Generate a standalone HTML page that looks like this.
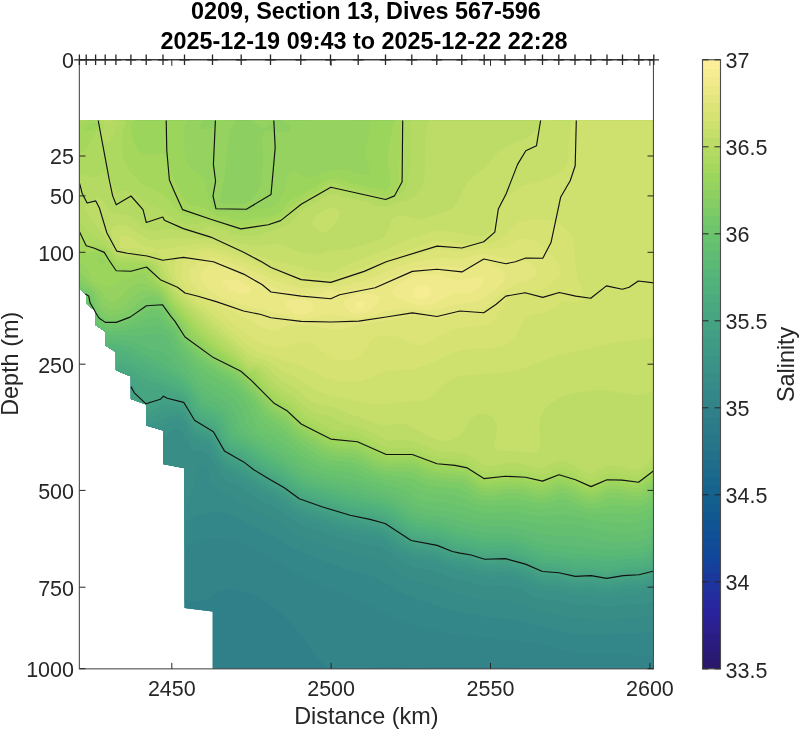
<!DOCTYPE html>
<html><head><meta charset="utf-8"><style>
html,body{margin:0;padding:0;background:#fff;}
body{width:800px;height:729px;overflow:hidden;}
svg{display:block;font-family:"Liberation Sans",Arial,Helvetica,sans-serif;}
.t{font-size:21.5px;fill:#262626;}
.l{font-size:23.4px;fill:#262626;}
.h{font-size:23.4px;font-weight:bold;fill:#000;}
</style></head><body>
<svg width="800" height="729" viewBox="0 0 800 729">
<defs><clipPath id="dc"><polygon points="79.5,120.5 653.5,120.5 653.5,668.9 212.8,668.9 212.8,611.5 184.6,608.1 184.6,468.3 163,463.9 163,430.4 146.2,425.6 146.2,404.5 130.9,399 130.9,376.4 115.9,370.2 115.9,352.1 105.3,345.4 105.3,331.7 95.6,324.9 95.6,311.2 86.2,303.6 86.2,294.4 79.5,288.6"/></clipPath>
<clipPath id="ac"><rect x="79.5" y="59.75" width="573.95" height="609.1"/></clipPath></defs>
<g clip-path="url(#dc)" shape-rendering="geometricPrecision">
<rect x="77.5" y="118.5" width="578" height="552.4" fill="#2b7a89"/>
<path fill="#2d7d89" d="M77.5 118.5L653.5 118.5L653.5 670.5L102.7 670.5L77.5 652.6Z"/>
<path fill="#2f8088" d="M77.5 118.5L653.5 118.5L653.5 670.5L170.8 670.5L127.5 641.5L77.5 610.1Z"/>
<path fill="#328488" d="M77.5 118.5L653.5 118.5L653.5 670.5L542.3 670.5L531.5 668.9L521.5 668.1L461.5 666.9L419.5 668L381.5 667.6L345.5 669.6L333.5 668.9L327 666.5L319.5 660.4L313.5 653.3L295.9 628.5L288.8 620.5L282.5 614.5L273.5 607.1L265.5 601.6L256.5 596.5L247.5 592.6L237.5 589.8L227.5 589.2L219.5 591.2L215.5 593.3L207.5 598.7L201.5 600.8L193.5 601.3L179.5 601.1L157.5 599.5L137.5 595.8L117.5 589.6L97.5 581.1L77.5 570.5Z"/>
<path fill="#348788" d="M77.5 118.5L653.5 118.5L653.5 656.2L643.5 656.1L619.5 653.5L593.5 654.3L579.5 653.6L565.5 651L535.5 643.3L517.5 641L483.5 638.1L465.5 636L441.5 632.2L423.5 628L409.5 623.7L397.5 619.1L362.8 602.5L321.5 585.3L293.5 571.4L251.5 547.4L239.5 542.1L227.5 538.4L217.5 537.4L211.5 537.9L205.5 539L195.5 542.1L173.5 551.5L163.5 555L151.5 557.5L141.5 558L127.5 556.5L111.5 552L95.5 544.9L77.5 534.7Z"/>
<path fill="#368a88" d="M77.5 118.5L653.5 118.5L653.5 631.6L641.5 632.9L621.5 633.3L599.5 634.8L579.5 634.2L563.5 631.7L511.5 619.5L479.5 615.9L459.5 612.2L441.5 607.3L411.5 596.9L399.5 591.5L383.5 581.7L375.5 577.8L341.5 567.7L305.5 554L291.5 547.5L262.9 530.5L237.5 517.7L225.5 513L217.5 511.6L209.5 512L201.5 514.5L181.5 524L169.5 528.4L155.5 531.1L143.5 531.3L129.5 528.7L115.5 523.5L101.5 515.9L77.5 500.4Z"/>
<path fill="#388d87" d="M77.5 118.5L653.5 118.5L653.5 614.8L639.5 617.5L607.5 620.1L571.5 617.9L539.5 611.8L533.5 609.9L517.5 603.3L511.5 601.6L503.5 600.8L485.5 600.2L477.5 598.9L453.5 593.1L429.5 584L411.5 579.8L404.3 576.5L387.5 564.5L379.7 560.5L363.5 557.3L349.5 553.8L335 548.5L319.5 543.7L295.5 534.2L275.5 520.8L258.3 512.5L235.5 498.2L221.5 491.6L217.5 489L213 484.5L210.8 480.5L207.5 468.5L205.5 465.8L203.5 465L201.5 465.2L199.5 466.3L197.5 469L196.5 472.5L195.9 480.5L194.7 486.5L191.8 492.5L187.5 497.8L181.8 502.5L175.5 505.9L167.5 508.5L159.5 509.5L153.5 509.2L147.5 508.3L141.3 506.5L133.5 503.1L123.5 497.3L97.5 480.1L77.5 468.9Z"/>
<path fill="#3a9187" d="M77.5 118.5L653.5 118.5L653.5 601.1L639.5 604.5L625.5 604.8L607.5 607.7L589.5 604.5L577.5 605.2L573.5 604.9L557.5 601L541.5 599.6L531.5 595.4L519.5 588.8L513.5 586.9L501.5 586.1L487.5 586.8L483.5 586.4L467.5 581.3L453.5 578.7L431.5 570.1L415.5 568.2L411.5 567.1L397.5 559.1L383.5 548.8L379.5 546.6L351.5 541.4L327.5 534.4L317.5 530.4L303.5 526.1L299.5 524.2L277.5 509.1L267.5 504.7L257.5 499.4L238.8 486.5L225.5 480.5L223.2 478.5L220.1 474.5L213.5 461.5L207.5 453.5L203.5 451L201.5 450.7L195.5 451.3L192.9 450.5L191.3 448.5L188.5 442.5L181.5 432.2L179.5 430.3L177.5 429.4L173.5 429.7L166.4 434.5L158.4 442.5L147.5 457.4L143.5 460.4L139.5 461.6L129.5 461.3L117.5 458.7L103.5 454.1L77.5 444ZM160.3 474.5L163.5 473.1L169.5 473.6L171.5 474.5L173.7 476.5L174.7 478.5L174.7 480.5L173.4 482.5L169.5 484.2L167.5 484.2L163.5 483L160.5 480.5L159.5 478.5L159.3 476.5Z"/>
<path fill="#3c9486" d="M77.5 118.5L653.5 118.5L653.5 590.7L641.5 593.7L625.5 594.6L609.5 597.5L603.5 597.2L589.5 594.5L579.5 595.2L573.5 595L557.5 591.3L545.5 590.5L539.5 589.4L533.5 587.2L521.5 580.8L509.5 577.5L503.5 576.7L491.5 577.8L483.5 577.1L469.1 572.5L451.5 569L434.9 562.5L415.5 559.6L405.5 556L399.5 553L393.5 548.7L384 540.5L380.1 538.5L373.5 537L359.5 535L335.5 529.4L321.5 523.8L307.5 519.8L295.5 513.8L289.5 510L280.1 502.5L259.5 492.1L241.5 479.6L229.5 474.1L225.5 471.4L219.5 464.5L209.1 446.5L206.3 444.5L197.5 441.7L193.5 439.2L189.1 434.5L183.5 424.7L179.5 421L177.5 420.3L173.5 420.6L169 422.5L153.5 431.3L145.5 435.1L137.5 437.7L129.5 438.9L121.5 438.6L113.5 437.1L77.5 424.8Z"/>
<path fill="#3e9886" d="M77.5 118.5L653.5 118.5L653.5 584.8L641.5 588L633.5 588.9L623.5 589.1L613.5 591.5L609.5 591.9L601.5 591.4L591.5 589.1L579.5 589.8L573.5 589.6L569.5 589L559.5 586.1L547.5 585.4L539.5 584L533.5 581.7L523.9 576.5L507.5 572L503.5 571.5L491.5 572.6L483.5 571.9L469.5 567.5L457.5 565.4L449.5 563.4L435.5 557.6L421.5 555.9L415.5 554.5L407.5 551.8L401.5 549.1L395.5 544.8L385.9 536.5L382 534.5L374.3 532.5L359.5 530.1L337.5 525L323.5 519.5L307.5 514.8L293.5 507.8L283.5 499.7L259.5 486.8L242.2 474.5L231.5 469.7L225.5 465.9L221.5 461.8L217.7 456.5L211.5 443.5L207.5 440.5L197.5 436.8L193.5 434.2L191.5 431.9L187.5 424.3L183.5 418.4L181.5 416.2L179.5 415.1L175.5 414.5L169.5 415.9L153.5 422.7L145.5 425.3L137.5 426.7L131.5 426.9L125.5 426.2L119.5 424.7L94.3 414.5L77.5 409.5Z"/>
<path fill="#409b85" d="M77.5 118.5L653.5 118.5L653.5 581L641.5 584.2L635.5 585L623.5 585.4L609.5 588L603.5 587.8L591.5 585.4L579.5 586L573.5 585.8L559.5 582.4L545.5 581.4L539.5 580.2L535.5 578.7L525.5 573.6L507.5 568.4L501.5 568L489.5 568.8L483.5 568.2L469.5 563.9L451.5 560.4L435.5 554.1L419.5 551.7L411.5 549.6L403.5 546.2L387.5 534L381.5 530.9L339.5 521.7L325.3 516.5L309.5 511.7L295.5 505.3L283.5 496.2L261.5 484L251.5 477.5L243.5 471.5L231.5 465.4L225.5 461.6L221.5 457.6L219.2 454.5L214.8 444.5L212.1 440.5L207.5 437L199.5 433.8L195.5 431.7L192.8 428.5L184.2 414.5L181.5 411.8L179.5 410.7L175.5 409.9L167.5 410.8L163.5 409.4L159.5 413.3L151.5 416.9L141.5 418.6L133.5 418.3L129.5 417.4L123.5 415L109.5 406.9L101.5 403.3L92.5 400.5L77.5 397Z"/>
<path fill="#429e84" d="M77.5 118.5L653.5 118.5L653.5 578L639.5 581.4L623.5 582.3L609.5 584.9L603.5 584.6L591.5 582.3L573.5 582.6L559.5 579.3L541.5 577.6L535.5 575.4L525.5 570.5L507.5 565.4L501.5 564.9L489.5 565.6L483.5 565.1L469.5 560.9L451.5 557.3L435.5 551.1L417.5 548.1L411.5 546.5L405.5 543.9L387.5 530.9L381.5 527.9L341.5 519L311.5 509.1L301.5 505.3L296 502.5L283.5 493.1L259.5 479.5L243.5 468.2L225.5 458L220.5 452.5L215.9 442.5L213.5 438.8L209.5 435L199.5 430.3L195.5 427.6L191.5 422.3L185.5 412.3L183.5 409.8L179.5 406.8L175.5 405.8L163.5 405L159.7 406.5L153.5 410.6L149.5 412L143.5 412.7L137.5 412L133.5 410.7L129.6 408.5L117.5 398L111.5 394.7L101.5 391.6L77.5 386.6Z"/>
<path fill="#44a283" d="M77.5 118.5L653.5 118.5L653.5 575.1L639.5 578.5L623.5 579.5L609.5 582L603.5 581.8L591.5 579.4L573.5 579.8L559.5 576.5L541.5 574.8L525.5 567.7L507.5 562.5L501.5 561.9L489.5 562.8L483.5 562.3L469.5 558L453.5 555.1L435.5 548.2L417.5 545.2L411.5 543.7L405.5 540.7L387.5 528L381.5 525.1L343.5 516.5L317.5 508.1L303.5 503.3L297.5 500.5L281.5 488.9L257.5 475.1L241.5 463.7L225.5 454.9L221.5 450.3L216.7 440.5L213.5 435.5L209.5 431.7L199.5 427.1L195.5 424.1L192.5 420.5L183.5 405.9L179.5 403L175.5 402L163.5 401.6L149.5 407.1L145.5 407.6L141.5 407L137.5 405L134.5 402.5L126.3 390.5L121.5 387.4L111.5 384.4L77.5 377.7Z"/>
<path fill="#47a582" d="M77.5 118.5L653.5 118.5L653.5 572.3L639.5 575.8L623.5 576.6L607.5 579.4L591.5 576.6L577.5 577.3L573.5 577L559.5 573.6L545.5 572.7L541.5 572L525.5 564.8L507.5 559.7L501.5 559.1L489.5 559.9L483.5 559.5L469.5 555.2L453.5 552.3L435.5 545.3L417.5 542.4L411.5 541L407.5 538.8L387.5 525.1L381.5 522.3L345.5 514.2L303.5 500.5L297.5 497.7L283.5 487.3L255.5 470.9L241.5 460.5L225.5 451.9L222.7 448.5L215.5 434.7L213.5 431.8L209.5 428.6L199.5 424L195.5 421.1L193.4 418.5L185.5 404.4L183.5 401.9L181.5 400.5L177.5 398.8L167.5 397.1L163.5 395L161.5 395.7L158.2 398.5L149.5 401L145.5 401.1L143.5 400.1L140.1 396.5L133.5 385.4L131.5 383.6L127.5 381.3L117.5 378.1L91.5 373.1L77.5 369.8Z"/>
<path fill="#4aa880" d="M77.5 118.5L653.5 118.5L653.5 569.3L639.5 572.9L623.5 573.7L607.5 576.5L591.5 573.7L577.5 574.4L573.5 574.1L559.5 570.7L545.5 569.9L541.5 569.1L525.5 562L507.5 556.7L501.5 556.2L489.5 557.1L483.5 556.6L469.5 552.3L453.5 549.4L435.5 542.5L412.8 538.5L407.5 535.7L389.5 523.3L383.5 520.2L375.5 517.8L347.5 511.9L305.5 498.5L299.5 496L281.5 483L255.5 467.9L241.5 457.2L227.5 450.4L223.5 446.1L216.6 432.5L213.7 428.5L209.5 425.4L199.5 421L196.2 418.5L191.5 411.5L186.9 402.5L185.5 400.5L181.5 397.2L163.5 390L159.5 389.8L153.5 390.5L149.5 390.1L145.5 387.9L134.4 378.5L129.5 375.8L123.5 373.5L113.5 370.8L89.5 365.9L77.5 362.5Z"/>
<path fill="#4cac7f" d="M77.5 118.5L653.5 118.5L653.5 566.2L639.5 569.7L623.5 570.6L609.5 573.2L603.5 573L591.5 570.7L577.5 571.3L573.5 571L559.5 567.7L543.5 566.5L539.5 565.2L525.5 559L509.5 554.1L503.5 553.2L489.5 554.1L483.5 553.6L469.5 549.3L453.5 546.4L435.5 539.5L413.5 535.8L407.5 532.7L389.5 520.2L383.5 517.3L375.5 514.9L347.5 508.9L305.5 495.7L299.5 493.1L281.5 480L257.5 466L243.5 455.2L239.5 452.9L231.5 449.7L227.5 447.3L223.4 442.5L218 430.5L215.5 426.7L211.5 423.3L201.5 418.9L197.5 416.2L193.1 410.5L187.5 399.3L185.5 397L181.5 393.8L167.5 386.8L149.5 381.5L134.4 372.5L125.5 368.5L115.5 365.4L91.5 360.3L77.5 355.7Z"/>
<path fill="#4faf7d" d="M77.5 118.5L653.5 118.5L653.5 562.9L639.5 566.4L623.5 567.3L607.5 570L591.5 567.3L575.5 568L559.5 564.5L543.5 563.3L539.5 562L525.5 555.7L511.5 551.2L503.5 550L489.5 550.9L483.5 550.4L469.5 546.1L453.5 543.3L435.5 536.3L415.5 533.3L409.5 530.8L391.5 518.2L383.5 514.2L375.5 511.8L349.5 506.4L305.5 492.8L299.5 490.1L281.5 476.9L257.5 462.7L243.5 451.7L231.5 446.7L227.5 444L223.5 438.9L220.6 430.5L217.2 424.5L212.8 420.5L201.5 415.6L197.5 412.5L194.4 408.5L190.9 400.5L188.4 396.5L185.5 393.4L179.5 388.9L169.5 383.4L151.5 376L133.5 366.5L125.5 363L115.5 359.9L93.5 355.1L85.5 352.5L77.5 349.1Z"/>
<path fill="#51b27c" d="M77.5 118.5L653.5 118.5L653.5 559.2L639.5 562.7L623.5 563.6L607.5 566.4L591.5 563.6L575.5 564.4L559.5 560.8L543.5 559.7L523.5 551.3L511.5 547.5L503.5 546.5L489.5 547.4L483.5 546.9L471.5 543.1L453.5 539.8L437.5 533.5L415.5 530.1L409.5 527.4L391.5 514.7L383.5 510.9L375.5 508.6L349.5 503.1L305.5 489.7L299.5 486.9L281.5 473.4L257.5 459.1L245.5 449.5L233.5 444.4L229.5 442.1L226 438.5L221.7 426.5L217.8 420.5L213.5 417.1L203.5 412.9L199.5 410.3L196.3 406.5L192.7 398.5L189.5 393.8L183.5 387.8L177.5 383.6L163.5 375.8L127.5 358.2L117.5 355L101.5 351.9L93.5 349.8L85.5 346.7L77.5 342.5Z"/>
<path fill="#56b579" d="M77.5 118.5L653.5 118.5L653.5 554.6L647.5 556.7L639.5 558.5L623.5 559.5L607.5 561.9L591.5 559.4L575.5 559.8L561.5 556.9L545.5 555.7L540.9 554.5L523.5 547L513.5 543.9L503.5 542.6L489.5 543.3L483.5 542.8L471.5 539.3L455.5 536.4L437.5 529.9L415.5 526.5L409.5 523.5L393.5 512.1L383.5 507.3L375.5 505L351.5 499.8L306.1 486.5L299.5 483.1L279.5 468.3L259.5 456.5L247.5 447.3L233.5 440.7L230.3 438.5L227.6 434.5L224.3 424.5L220.7 418.5L215.5 414.1L205.5 409.7L201.5 407.2L199.1 404.5L194.7 396.5L189.5 389.4L183.5 383.6L177.5 379.2L159.5 368L129.5 353.3L119.5 350.1L103.5 347.5L95.5 345.4L85.5 341L77.5 335.8Z"/>
<path fill="#5bb976" d="M77.5 118.5L653.5 118.5L653.5 549.1L647.5 551.6L639.5 553.5L607.5 556.5L591.5 554.4L575.5 554L561.5 551.7L545.5 550.4L539.5 548.6L521.5 541.4L513.5 539.2L505.5 538.1L489.5 538.5L483.5 537.9L455.5 531.7L437.5 525.9L417.5 522.9L411.5 520.3L393.5 507.9L383.5 503.4L353.5 496L337.5 491.3L317.5 486.3L307.5 483.1L301.5 480.1L283.5 466.7L261.5 453.4L249.5 444.7L234.5 436.5L231.2 432.5L226.6 420.5L222.7 414.5L217.5 410.3L207.5 405.6L203.5 402.9L193.5 389.3L187.5 382.4L181.5 377.1L173.5 371.3L163.5 363.1L157.5 360L147.5 356.4L135.5 349.9L129.5 347.2L121.5 345L107.5 343.6L99.5 342L91.5 338.9L84.5 334.5L77.5 328.4Z"/>
<path fill="#60bc74" d="M77.5 118.5L653.5 118.5L653.5 542.4L645.5 546L637.5 548L615.5 549.8L607.5 550L587.5 547.4L547.5 543.9L539.5 541.9L521.5 535.6L511.5 533.4L503.5 532.8L489.5 532.9L481.5 532L459.5 527.4L439.5 521.8L418.8 518.5L411.5 515.2L395.5 504.4L385.5 499.8L343.5 488.3L321.5 483.2L311.5 480.3L303.5 476.5L283.5 461.9L263.5 449.8L239.5 434.1L235.5 429.6L230 416.5L225.5 409.9L219.5 405.2L209.5 400.3L205.5 397.5L199.5 391.2L189.5 378.7L177.5 367.4L167.5 355.4L163.5 352.2L159.5 350.8L149.5 349.7L139.5 344.4L129.5 341.1L121.5 339.7L109.5 339.5L101.5 338.2L95.5 336.1L89.6 332.5L85 328.5L77.5 320.1Z"/>
<path fill="#65bf71" d="M77.5 118.5L653.5 118.5L653.5 534.5L645.5 538.4L637.5 540.8L625.5 542.1L611.5 542.3L601.5 541.1L577.5 536L569.5 535.5L553.5 535.6L545.5 535L521.5 528.8L513.5 527.2L505.5 526.5L487.5 526.5L479.5 525.5L464.9 522.5L443.5 517.1L425.5 514.7L419.5 513.3L413.2 510.5L397.5 500.3L387.5 495.7L347.5 483.9L325.5 479.5L314.7 476.5L309.5 474.4L303.5 470.9L281.5 455.1L254 438.5L243.7 430.5L239.6 424.5L234.9 412.5L231.3 406.5L225.5 400.9L207.5 391.2L199.6 384.5L193.6 376.5L181.9 362.5L173 348.5L168 338.5L165.5 336.1L161.5 334.3L157.5 333.7L141.5 336L121.5 335L107.5 335.4L99.5 333.4L93.5 330.1L87.6 324.5L77.5 310.7Z"/>
<path fill="#69c26e" d="M77.5 118.5L653.5 118.5L653.5 525.3L645.5 529.4L637.5 532L629.5 533.1L619.5 533.3L609.6 532.5L601.5 531.2L581.5 525.4L576.5 524.5L567.5 524.2L551.5 525.1L543.5 525L513.5 519.8L505.5 519.3L487.5 519.6L479.5 518.7L449.5 511.3L427.5 508.9L421.5 507.8L414 504.5L399.5 495.3L389.5 491.2L369.5 485.2L349.5 478.5L327.5 474.9L317.5 472.1L311.5 469.6L306.1 466.5L279.5 447.6L259.5 436.5L253.5 432.1L250 428.5L247.3 424.5L240.9 408.5L235.5 400.1L231.5 396L227.5 392.9L209.5 383.4L205.5 380.7L201.5 377L190.3 364.5L177.6 346.5L175.4 342.5L172.3 334.5L169.5 331.6L165.5 328.7L159.5 325.4L155.5 324.4L151.5 324.7L135.5 329.6L113.5 331.7L105.5 331.3L101.5 330.1L97.5 328.1L91.6 322.5L81.5 306.3L77.5 301.7Z"/>
<path fill="#6ec56b" d="M77.5 118.5L653.5 118.5L653.5 515.5L647.5 518.9L639.5 521.8L633.5 522.9L625.5 523.2L597.5 521.3L573.5 515.8L565.5 514.7L541.5 516.1L533.5 515.4L513.5 512.1L505.5 511.9L489.5 512.7L481.5 512.1L473.5 510.3L459.5 505.4L451.5 503.3L429.5 501.8L421.5 500.5L417.5 498.8L407.5 492.5L401.5 489.5L395.5 487.4L373.5 481.3L353.5 473.6L347.5 472.2L329.5 470L321.5 467.9L315.5 465.5L309.5 462.1L277.5 439.1L263.5 432.1L259.5 429.5L256.8 426.5L254.2 422.5L246.4 404.5L239.5 395.3L234.8 390.5L229.8 386.5L205.5 371.8L197.5 365.3L180.3 344.5L178 340.5L175.5 333.4L173.5 330.6L159.5 318.2L155.5 316.5L151.5 316.8L133.5 324.5L125.6 326.5L115.5 328L109.5 328.2L105.5 327.6L99.5 324.8L96.8 322.5L93.8 318.5L87.1 306.5L83.5 298.9L77.5 295.2Z"/>
<path fill="#75c869" d="M77.5 118.5L653.5 118.5L653.5 506.4L645.5 511.1L637.5 513.4L629.5 513.9L613.5 512.8L597.5 514.1L587.5 513.2L569.5 507.5L563.5 506.3L559.5 506.4L547.5 508.4L541.5 508.9L533.5 508.3L521.5 505.8L513.5 504.9L507.5 504.9L491.5 506.3L483.5 505.9L475.5 503.9L461.5 497.4L455.5 495.4L449.5 494.5L431.5 493.5L423.5 491.9L407.5 484.4L401.5 482.6L385.5 479.6L377.5 477.6L353.5 467.9L347.5 466.7L331.5 465.1L323.5 463L317.5 460.4L309.5 455.5L293.9 444.5L279.5 432.4L267.5 425.6L263.5 422.6L259.5 417.5L251.4 402.5L243.3 392.5L237.5 386.4L232.9 382.5L213.5 370.3L205.5 366L199.5 361.2L182.2 342.5L179.9 338.5L177.6 332.5L175.5 329.1L167.6 320.5L161.5 312.8L157.5 309.3L155.5 308.7L151.5 309.5L133.5 319.2L121.5 323.3L115.5 324.4L109.5 324.5L105.5 323.7L102.8 322.5L99.5 319.8L97.5 317.3L91.5 306.5L89.7 302.5L88.6 296.5L86.2 294.5L77.5 290.4Z"/>
<path fill="#7dcb66" d="M77.5 118.5L653.5 118.5L653.5 498.4L645.5 503.8L637.5 506.3L631.5 506.6L617.5 504.5L613.5 504.4L609.5 505L599.5 507.8L593.5 508.5L587.5 508L583.5 506.9L569.5 500.6L563.5 499.1L559.5 499.2L547.5 502.4L541.5 503.1L535.5 502.7L521.5 499.5L513.5 498.6L507.5 498.8L493.5 500.6L485.5 500.6L479.5 499.3L475.5 497.7L463.5 490.4L459.5 488.7L455.5 487.9L439.5 486.9L429.5 485.5L423.5 483.6L409.5 477.5L389.5 475.6L379.5 473.5L371.5 470.6L359.5 464.7L353.5 462.5L335.5 460.8L327.5 459.2L319.5 455.7L299.5 442.7L291.8 436.5L281.7 426.5L267.5 417.4L262.9 412.5L256.6 402.5L251.5 395.9L237.5 381L233.5 377.9L207.5 362.8L201.5 358L183.5 340.3L177.8 328.5L169.7 318.5L161.5 306L159.5 304.2L155.5 302.3L151.5 302.5L129.5 315.7L119.5 319.6L113.5 320.5L109.5 320.4L105.5 319.2L103.5 318L99.5 313.6L95.2 306.5L93.5 302.5L92.1 296.5L91.1 294.5L87.5 291.4L77.5 286.1Z"/>
<path fill="#85cd64" d="M77.5 118.5L653.5 118.5L653.5 491.3L645.5 497.9L639.5 500.3L631.5 500.8L617.5 497.9L611.5 497.7L607.5 498.7L597.5 503.1L591.5 503.9L587.5 503.5L583.5 502.2L569.5 494.8L565.5 493.5L561.5 492.9L557.5 493.6L547.5 497.4L541.5 498.3L535.5 497.8L523.5 494.4L515.5 493.5L505.5 493.7L491.5 496L485.5 495.8L477.5 493.4L473.5 491L465.5 484.9L461.5 483.3L455.5 482.4L441.5 481.5L431.5 480L425.5 478.2L413.5 472.4L409.5 471.4L393.5 471.6L383.5 470.2L373.5 466.9L355.5 457.9L349.5 457.1L337.5 456.5L329.5 455.1L321.5 451.5L297.5 436L293.5 432.4L285.5 423.5L271.5 414.4L267.5 411.3L253.5 393.5L237.5 376.6L209.5 360.2L187.5 341L183.7 336.5L179.5 327.2L172.9 318.5L163.5 304L157.5 298.2L155.5 297.2L151.5 296.3L145.5 297.7L141.5 300.1L128.4 310.5L125 312.5L119.5 314.7L115.5 315.6L111.5 315.8L107.5 314.9L105.5 313.9L101.5 310.3L98.6 306.5L96.9 302.5L95.3 296.5L93 292.5L89.5 289.4L77.5 281.6Z"/>
<path fill="#8dd061" d="M77.5 118.5L653.5 118.5L653.5 485L645.8 492.5L639.5 495.6L635.5 496.2L631.5 496L619.5 493.1L610.7 492.5L607.5 493.1L597.5 498.5L591.5 499.9L585.5 498.7L571.5 491L565.5 488.7L561.5 488L557.5 488.4L547.5 493L541.5 494.2L535.5 493.6L523.5 489.9L515.5 489.1L505.5 489.2L493.5 491.5L485.5 491.6L481.5 490.7L477.5 488.8L467.5 480.8L463.5 479.2L457.5 478.2L443.5 477.4L431.5 475.4L425.5 473.4L415.5 468.2L411.5 466.8L393.5 467.6L383.5 466.2L373.5 462.7L357.5 454L351.5 452.9L337.5 452.4L329.5 450.7L323.5 447.9L315.4 442.5L303.5 435.8L296.5 430.5L287.5 420.6L269.5 408.3L259.8 396.5L239.5 374.5L236.9 372.5L227.5 367.6L212.4 358.5L187.5 337.5L185.5 334.6L182.9 328.5L180.4 324.5L163.5 300.4L159.5 295.5L157.5 293.8L153.5 292L149.5 291L145.5 290.7L141.5 291.4L135.5 294.9L125.7 304.5L121.5 307.5L115.5 309.8L109.5 309.7L105.5 307.9L101.8 304.5L98 294.5L95 290.5L77.5 276.4ZM275.5 124.2L275.1 124.5L275.5 125.1L276.4 124.5Z"/>
<path fill="#95d25f" d="M77.5 118.5L239.6 118.5L236.9 120.5L233.5 124.5L231.2 128.5L229.8 132.5L226.5 154.5L224.6 178.5L219.7 200.5L220.1 202.5L221.5 203.6L239.5 204L245.5 203.2L250.1 200.5L257.2 192.5L260 186.5L261.5 178.5L262.7 164.5L262.9 156.5L262.3 140.5L262.9 136.5L264.6 132.5L265.5 131.3L267.5 130.7L285.5 132.4L287.5 131.8L289.5 130.5L290.2 128.5L289.7 126.5L288.4 124.5L285.8 122.5L281.5 120.9L277.5 120.5L275.5 120.8L271.5 122.5L265.5 127.6L263.5 127.9L259.5 126L249.4 118.5L653.5 118.5L653.5 480.5L645.5 488.1L639.5 491.5L635.5 492.2L631.5 492L619.5 489.1L611.5 488.4L605.5 489.8L597.5 494.3L591.5 496L585.5 494.8L571.5 487.1L565.5 484.8L561.5 484.1L557.5 484.5L547.5 489L541.5 490.4L535.5 489.7L523.5 486.2L515.5 485.3L505.5 485.5L491.5 487.9L485.5 487.9L479.5 485.9L469.5 478.2L463.5 475.6L457.5 474.6L443.5 473.6L433.5 472L427.5 470.2L415.9 464.5L411.5 463.2L393.5 464L385.5 463.1L377.5 460.5L357.5 450.3L351.5 449.1L337.5 448.4L331.5 447.2L325.5 444.8L303.5 431.8L297.5 427.1L287.5 416.7L271.5 405.8L248.7 380.5L239.5 371.2L214.8 356.5L190.7 336.5L187.6 332.5L181.9 322.5L169.5 305.7L161.5 293.8L159.5 291.6L145.5 283.9L141.5 282.9L139.5 283.1L135.5 284.5L129.1 288.5L119.5 297.7L115.6 300.5L111.5 301.4L109.5 301.1L107.5 300L105.5 297.9L100 290.5L89.8 282.5L77.5 269.3ZM207.5 120.2L203.5 121.7L201 124.5L200.6 126.5L201.5 128.5L203.5 129.7L205.5 129.9L209.5 129L213.5 127.3L215.5 125.2L215.3 122.5L213.5 121L211.5 120.3Z"/>
<path fill="#9cd55c" d="M77.5 118.5L189.8 118.5L187.7 120.5L185 124.5L183.4 130.5L185.4 158.5L187.5 164.4L191.5 169.2L200.7 176.5L203.5 179.9L205.3 184.5L207.2 194.5L209 200.5L212.1 206.5L215.4 210.5L219.5 211.8L229.5 211.1L241.5 212.9L247.5 212.3L259.5 208.5L271.5 207.2L275.5 204.9L277.5 202.3L284 190.5L285.5 186.5L287.7 176.5L289.5 173.5L291.5 172L293.5 171.5L297.5 172.3L305.5 176.6L309.5 177.9L313.5 177.4L321.5 173.6L327.5 171.6L341.5 168.7L347.5 169L354.3 172.5L361.5 174.5L367.5 174.6L369.5 173.2L370.1 170.5L369.5 166.8L365.3 156.5L364.5 152.5L365.1 148.5L369.5 133.3L370.3 128.5L370.2 124.5L369.4 122.5L367.5 120.7L365.5 120L361.5 119.6L343.5 121.6L325.5 121.8L313.5 121L299 118.5L653.5 118.5L653.5 476.8L643.5 485.5L637.5 488.2L631.5 488.3L619.5 485.4L611.5 484.8L605.5 486.2L595.5 491.3L591.5 492.3L585.5 491.1L569.5 482.6L565.5 481.2L561.5 480.6L555.5 481.6L545.5 486.1L541.5 486.8L535.5 486.1L523.5 482.7L515.5 481.7L505.5 482L491.5 484.2L485.5 484.4L479.5 482.2L469.5 474.7L463.5 472.2L435.5 469L427.6 466.5L415.5 460.9L411.5 460L405.5 459.8L393.5 460.5L385.5 459.6L379.5 457.6L357.5 446.7L351.5 445.4L337.5 444.5L331.5 443.3L325.5 440.7L303.5 427.9L299.5 424.9L291.5 416.3L287.5 412.8L272.4 402.5L259.4 388.5L250.9 378.5L245.5 374.4L241.5 370.3L215.5 353.1L193.3 334.5L190 330.5L183.6 320.5L169.5 302.5L163.3 292.5L159.5 288.6L151.6 282.5L145.5 274.2L143.5 272.8L139.5 273.2L131.5 277.1L119.5 280.8L111.5 285.8L109.5 286.5L105.5 286.4L97.5 283.5L93.5 281.1L90.3 276.5L87.5 269.3L85.8 266.5L83.8 264.5L77.5 260.2ZM101.5 258L99.5 258.5L98.5 260.5L99 262.5L101.5 264.2L103.5 264.5L105.2 262.5L103.5 259ZM214.9 118.5L215.5 118.5L229.2 118.5L225.5 121L221.5 121.7L217.5 120.4ZM258.7 118.5L259.5 118.5L276.9 118.5L271.5 120.4L265.5 121L261.5 120ZM351.5 160.5L351.5 160.5L351.5 160.5Z"/>
<path fill="#a5d75d" d="M77.5 118.5L139.1 118.5L133.5 121.9L131.8 124.5L131.2 126.5L131 130.5L131.5 135.1L133.5 141.9L135.5 146.2L139.5 151.6L141.5 153.2L145.5 154.8L151.5 155L159.5 153.4L161.5 153.5L163.6 154.5L165.5 156.7L168.3 162.5L171.2 172.5L173.5 178.5L183.9 198.5L186.7 202.5L189.4 204.5L191.5 205.3L201.5 207.2L207.5 209.2L211.5 211.9L213.7 214.5L217.5 216.4L227.5 216.3L235.5 219.5L241.5 220.5L257.5 217.2L269.5 216.4L279.5 213L281.5 211.2L287.5 203L291.5 199.7L299.9 196.5L305.5 192.1L315.5 187.8L321.5 182.5L327.5 179.7L335.5 178.7L339.5 179.1L349.5 183.2L359.5 184.7L367.5 187.2L375.5 188.6L383.5 190.8L386.2 190.5L388.5 188.5L389.5 186.6L390.3 182.5L390.3 178.5L388 162.5L388.6 148.5L392.8 126.5L395.8 118.5L653.5 118.5L653.5 473.2L641.5 483L637.5 484.7L631.5 484.7L617.5 481.4L611.5 481.2L605.5 482.5L595.5 487.6L591.5 488.8L589.5 488.7L585.5 487.5L569.5 479L565.5 477.6L561.5 477L555.5 478L545.5 482.5L541.5 483.4L535.5 482.6L523.5 479.1L515.5 478.1L501.5 478.9L489.5 480.9L485.5 481L481.5 479.8L469.5 471.2L463.5 468.8L435.5 465.6L427.5 462.8L417.5 458.1L411.5 456.6L405.5 456.3L393.5 457L387.2 456.5L381.5 454.6L357.5 442.8L351.5 441.5L337.5 440.5L331.5 439.3L327.5 437.7L304.4 424.5L301.5 422.4L291.5 412L287.5 408.5L273.5 399.1L259.5 384.5L253.5 375.7L251.5 374.4L247.5 373.4L245.5 372L239.5 366.1L217.4 350.5L195.5 331.9L183.8 316.5L170.4 300.5L164.4 290.5L154.1 280.5L152 276.5L149.5 269.9L147.5 267.5L145.5 266.6L143.5 266.5L129.5 268.4L121.5 267.8L117.5 266.1L115.5 264.7L105.6 252.5L103.5 250.9L101.5 250.2L97.5 250.1L89.5 252.7L85.5 253.4L81.5 252.7L77.5 250.7ZM93.5 122.3L88.2 124.5L86.5 126.5L85.8 128.5L86.6 130.5L89.5 131L91.5 130.3L97.2 126.5L98.1 124.5L97.5 122.5ZM167.2 118.5L167.5 118.5L171.9 118.5L169.5 118.7Z"/>
<path fill="#add960" d="M77.5 118.5L128 118.5L124.5 124.5L122.6 132.5L122.2 144.5L123.4 156.5L125 162.5L128 168.5L131.5 173.2L139.5 181.3L145.5 185.7L157.5 191L163.5 194.8L169.5 200.6L177.5 210.8L179.5 212.7L183.5 215.1L187.5 216.3L191.5 216.9L201.5 216.5L205.5 216.9L211.5 219.6L219.5 221.7L225.5 222.3L235.5 225.8L241.5 226.7L255.5 223.2L271.5 220.5L281.5 216.7L284.4 214.5L289.5 208.2L293.6 204.5L303.5 199.4L309.5 195.2L317.5 191.2L325.5 185.1L329.5 183.6L333.5 183.2L337.5 183.7L347.5 187.4L357.5 189.3L373.5 193.5L383.5 196.7L387.5 196.4L391.7 194.5L395.9 190.5L397.8 186.5L398.7 182.5L399.5 159.4L402.1 132.5L400.9 124.5L401.3 122.5L404 118.5L653.5 118.5L653.5 469.2L641.5 478.7L637.5 480.8L631.5 480.8L619.5 477.8L611.5 477.2L605.5 478.6L595.5 483.6L591.5 484.9L589.5 484.8L585.5 483.5L569.5 475L565.5 473.6L561.5 473.1L555.5 474L545.5 478.5L541.5 479.5L535.5 478.7L523.5 475.2L515.5 474.1L499.5 475.1L489.5 477L485.5 477.2L481.5 475.7L469.5 467.3L463.5 465L457.5 464L437.5 462.3L431.5 460.4L417.5 454.2L411.5 452.8L405.5 452.4L391.5 453L385.5 452.1L363.5 441L357.5 438.5L349.5 436.9L335.5 435.9L330.3 434.5L319.5 427.9L305.5 420.7L300.3 416.5L289.5 405.3L277.5 397.4L271.5 392.3L261.5 381.9L255.5 372.1L253.5 371.1L249.5 371.9L247.5 371.3L239.5 363.3L219.5 348L199 330.5L185.7 314.5L173.1 300.5L165.4 288.5L157.5 280.5L155.4 276.5L152.6 268.5L151.4 266.5L149.5 264.8L147.5 264L137.5 263L131.5 261.7L123.5 262.4L119.5 261.8L115.5 259.6L113.5 257.8L107.5 250.3L103.5 246.8L97.5 244.8L85.5 244.9L83.5 243.8L80.3 240.5L77.5 236.6L77.5 153.2L81.5 152.3L83.5 151.2L87.5 147.1L96 132.5L100.6 126.5L100.7 124.5L99.8 122.5L97.5 121L91.5 119.8L85.5 120.7L77.5 125Z"/>
<path fill="#b5da64" d="M77.5 118.5L77.9 118.5L77.5 118.6ZM94.6 118.5L95.5 118.5L122.3 118.5L115.8 128.5L111.5 138.3L109.5 141.3L107.5 142.6L105.5 142.4L103.5 141.1L101.5 138.8L100.6 136.5L100.8 132.5L103.9 128.5L104.4 126.5L103.7 124.5L102.2 122.5ZM411.1 120.5L412.5 118.5L653.5 118.5L653.5 464.5L640.5 474.5L637.5 476L633.5 476.5L619.5 473L611.5 472.5L605.5 473.8L593.5 479.5L589.5 480L584.9 478.5L569.5 470.2L563.5 468.5L559.5 468.4L555.5 469.2L545.5 473.7L541.5 474.7L537.5 474.5L521.5 470L515.5 469.3L505.5 469.8L489.5 472.5L485.5 472.5L481.5 470.8L471.5 463.6L463.5 460.4L457.5 459.3L437.5 457.5L431.5 455.5L419.5 450.2L411.5 448L405.5 447.5L393.5 448.2L387.5 447.7L383.5 446.3L363.5 435.6L357.5 433.2L351.5 431.8L336.4 430.5L331.5 429.4L323.5 423.5L309.5 417.6L303.5 413.8L291.5 401.2L277.5 392.1L271.5 386.9L265.4 380.5L260.3 372.5L258.5 370.5L255.5 368.9L253.5 368.6L249.5 369.8L247.5 368.8L241.5 361.9L237.5 358.1L219.5 343.5L203.5 329.7L174.5 298.5L167.5 287.6L159.5 278.7L155.5 267.8L153.5 264.6L151.5 262.8L149.5 261.9L141.5 260.8L131.5 258.5L123.5 259L117.5 257.4L113.5 254.2L105.5 243.9L101.5 240.9L90.6 234.5L83.5 226.4L77.5 220.8L77.5 173.4L89.5 176.8L93.5 177.2L97.5 176.5L105.5 172.7L107.5 173.9L109.5 176.6L115.5 189.4L117.5 192.1L125.5 190.7L131.5 191.8L147.5 203.3L151.5 205.5L163.5 210L173.5 218.5L179.5 222L183.5 223.6L191.5 224.7L203.5 222.6L209.5 222.7L219.5 225.8L225.5 226.8L233.5 230L239.5 231.3L245.5 231.3L249.5 230.6L273.5 224.3L283.5 220.1L287.5 217.3L293.5 210.6L298.4 206.5L317.5 195.6L327.5 188.7L331.5 187.3L335.5 187.8L347.5 191.9L371.5 197.7L381.5 201.1L387.5 200.9L395.5 197.7L400.6 194.5L404.4 190.5L407.3 184.5L408.9 176.5L411.1 154.5L411.4 136.5L409.2 124.5Z"/>
<path fill="#bddc67" d="M97.8 118.5L99.5 118.5L116.5 118.5L113.5 121.2L109.5 122.6L105.5 121.7ZM431.5 118.5L653.5 118.5L653.5 457L650.3 460.5L639.5 468.7L637.5 469.7L633.5 470.3L617.5 465.8L611.5 465.5L605.5 467L593.5 472.9L589.5 473.5L583.5 471.3L569.5 462.9L565.5 461.5L561.5 461L555.5 462.1L545.5 466.8L541.5 468.1L537.5 467.9L523.5 464L515.5 463L505.5 463.4L489.5 466.3L485.5 466L482.5 464.5L473.5 457.6L465.5 453.9L459.5 452.8L443.5 452L437.5 451L417.5 442.9L407.5 440.2L401.5 439.8L391.5 440.8L387.5 440.5L383.5 438.9L369.5 431.5L361.5 427.9L341.5 422.3L329.5 415.8L317.5 413.5L311.5 411.6L305.5 407.8L293.5 396.2L281.5 388.5L275.5 383.9L270 378.5L261.5 368.5L259.5 367.2L255.5 366L249.5 366.2L247.5 364.6L237.5 354L205.8 326.5L176.1 296.5L169.5 286.4L163 278.5L158.1 266.5L155.3 262.5L151.5 260.1L143.5 258.9L133.5 256.1L121.5 255.9L117.5 254.4L115.5 252.9L107.5 240.3L99.7 230.5L88.2 214.5L85.3 208.5L85.5 206.3L87.5 204.6L91.5 203.2L95.5 198.2L97.5 197.4L99.5 197.6L102.8 200.5L107.5 209L111.5 212.5L115.5 213.9L125.5 215.1L129.5 216.1L133.5 218.5L143.5 228L149.5 230.7L153.5 230.9L163.5 228.9L169.5 228.6L183.5 231.5L193.5 231.9L199.5 230.7L209.5 226.4L211.5 226.6L217.5 229.9L225.5 231.1L233.5 234.9L249.5 237L257.5 235.7L275.5 229.6L287.5 224.9L291.5 222.1L298 214.5L302.1 210.5L317.5 201.8L325.5 196.5L331.5 194.1L335.5 194.2L347.5 197.9L367.5 202.4L375.5 205.8L379.5 206.8L383.5 206.9L387.5 206.1L395.5 202.6L405.4 200.5L411.5 198.2L416.9 194.5L421.2 188.5L423.4 182.5L424.6 174.5L426.4 130.5L428.2 124.5ZM521.5 120L520.7 120.5L523.5 121.5L524.3 120.5Z"/>
<path fill="#c6de6a" d="M537.9 118.5L653.5 118.5L653.5 390.3L645.5 394.2L637.5 395.2L631.5 394.6L607.5 390.5L599.5 390L591.5 390.4L581.5 391.8L571.5 394L563.5 396.6L557.5 399.3L552.2 402.5L547.5 406.4L544 410.5L541.8 414.5L540.4 418.5L539.5 424.5L540.4 446.5L538.7 450.5L535.5 452.5L531.5 452.9L515.5 451.3L499.5 450.7L495.5 449.6L494.2 448.5L493.5 446.5L496.6 432.5L496.9 428.5L496.5 424.5L495 420.5L493.5 418.3L489.5 415.2L485.5 413.9L479.5 414.1L473.5 417L468.4 422.5L461.3 434.5L457.5 437.7L451.5 440.2L443.5 441L437.5 440.1L431.5 437.9L410.5 426.5L405.5 424.3L399.5 423.4L387.5 425.5L381.5 425.1L351.1 414.5L335.5 408.1L318.9 404.5L313.1 402.5L307.5 398.9L295.5 389.1L279.5 379.1L265.5 366.3L259.5 363.2L251.5 361.7L249.5 360.7L235.5 347.2L211.8 326.5L199.5 314.5L179.5 296.3L166 276.5L161.8 266.5L157.5 260.3L153.5 257.8L145.5 257L135.5 253.3L125.5 253.4L119.5 252.1L117.5 250.9L115.8 248.5L112.2 238.5L111 232.5L111.8 228.5L113.5 226.6L115.5 225.6L121.5 225L125.5 225.6L129.5 227.1L145.5 237.8L149.5 239.8L151.5 240.2L169.5 238.4L187.5 238.5L205.5 237.7L217.5 239.3L253.5 245.8L261.5 245.6L273.5 244.1L279.5 244.2L283.5 245.1L299.5 251.4L305.5 252.9L313.5 253.9L321.5 253.6L329.5 250.2L339.5 249.8L349.2 248.5L365 244.5L377.8 240.5L381.5 238.7L384.4 236.5L386.1 234.5L388.2 230.5L391.3 220.5L392.7 218.5L395.5 216.2L397.5 215.5L401.5 215.3L413.5 218.6L421.5 219L427.5 217.6L442.9 212.5L448.1 210.5L453.5 207.5L457.7 202.5L463.5 188.7L467.4 182.5L471.1 178.5L485.5 166.5L497.8 152.5L503 148.5L507.5 145.9L527.5 137.7L538.9 128.5L540.4 126.5L540.8 124.5L540.5 122.5ZM328 208.5L331.5 207.7L336.4 208.5L339 210.5L339.9 212.5L339.9 214.5L338.2 218.5L335.5 222.7L329.5 229.8L325.5 232.1L321.5 232L317.5 230.2L313.7 226.5L312.2 222.5L312.4 220.5L313.5 218.3L317.5 214.5Z"/>
<path fill="#cee06e" d="M542.9 118.5L543.5 118.5L552.8 118.5L549.5 121.5L547.5 121.6L545.5 120.9ZM571.1 118.5L653.5 118.5L653.5 337L643.5 339.6L623.5 341.2L615.5 342.4L565.5 354.1L549.5 358.6L523.5 368.3L511.5 371.6L497.5 373.6L469.5 375L457.5 377.1L449.2 380.5L444.3 384.5L431.5 396.9L427.5 399.2L423.5 400.5L417.5 401.3L399.5 402.2L379.5 404.7L373.5 404.6L365.5 403.6L327.5 394.5L319.5 392.1L313.5 389.2L299.5 379.7L283.5 371.8L267.5 361.5L251.5 355.6L247.5 352.6L200.9 310.5L182 294.5L177.5 288.6L171.6 278.5L165.9 264.5L159.5 254.1L155.5 251.7L147.5 253.8L144.7 252.5L141.5 249.4L137.5 247.6L127.5 249.1L123.5 248.7L120.4 246.5L119.5 244.5L119.3 240.5L119.9 238.5L121.5 236.4L125.5 235.5L129.5 236.5L131.5 237.6L141.5 245.4L149.5 247.3L157.5 250.1L183.5 245.5L197.5 243.5L205.5 243.1L211.5 243.7L245.5 251.8L259.5 255.8L275.5 261.3L289.5 264.1L316.5 270.5L327.5 272.4L333.5 271.2L349.5 263.5L388 248.5L411.5 237.9L429.5 232.1L437.5 230.7L445.5 230.6L451.5 231.4L471.5 235.6L479.5 236.1L483.5 235.5L486.6 234.5L489.9 232.5L491.9 230.5L492.9 228.5L494.7 214.5L495.8 210.5L497.8 206.5L501.5 202.2L515.5 190L519.5 187.1L523.5 185.2L539.5 181.5L551.5 176.7L559.5 172.4L563.5 169.1L565.5 166.6L567.4 162.5L568.2 158.5L568.5 144.5L571 128.5Z"/>
<path fill="#d6e272" d="M523.9 220.5L529.5 219.6L537.5 219.5L549.5 220.5L555.5 221.7L561.5 224.5L565.5 228.1L569.5 232.9L571.9 236.5L573.6 240.5L574.4 256.5L575.9 268.5L577.5 276.7L579.5 283.4L584.3 294.5L584.2 296.5L583.2 298.5L580.6 300.5L577.5 301.6L573.5 301.9L565.5 301L563.5 301.5L561.5 302.4L553.5 308.5L549.5 310.6L543.5 312.4L532 314.5L527.5 316.5L523.8 320.5L517.9 332.5L513.5 338.4L507.5 343.2L501.5 346L491.5 348L471.5 348.7L461.5 350.2L451.5 353.5L431.5 363.1L421.5 366.8L411.5 369L393.5 370.5L387.5 371.5L379.5 373.9L365.5 379.8L357.5 381.6L351.5 382.1L343.5 381.7L335.8 380.5L329.5 378.8L321.5 375.6L303.5 366.5L283.5 360.4L259.5 352L253.5 349.3L249.5 346.4L205.2 308.5L185.5 293L181.8 288.5L178.2 282.5L175.6 276.5L174.1 270.5L174.1 266.5L175.1 262.5L178.8 256.5L181.5 254.2L187.5 251.5L195.5 249.4L203.5 247.8L209.5 247.5L214.5 248.5L247.5 258.4L273.5 268.8L303.5 276L327.5 279.4L331.5 279.5L345.5 273.6L363.5 267.1L385.5 257.8L433.5 241.5L437.5 240.8L443.5 240.9L461.5 243.8L469.5 244.3L483.5 243.8L491.5 242.4L496.6 240.5L500 238.5L504.7 234.5L511.5 227.3L515.5 224.1L519.5 221.9Z"/>
<path fill="#dce478" d="M521.2 238.5L527.5 238.4L531.5 239.5L535.5 241.5L541.5 245.8L549.2 252.5L556.2 260.5L559.8 268.5L560.1 274.5L557.5 278.5L549.5 284.8L543.5 288.6L539.5 290.3L535.5 291.1L525.5 291.6L521.5 292.4L511.5 296.2L507.5 298.5L502.5 304.5L496.2 316.5L493.5 320.4L491.1 322.5L487.5 324.3L481.5 325.6L465.5 326.7L455.5 329L442.3 334.5L427.5 343L421.5 344.9L417.5 345L413.5 344.2L401.5 338.5L394.9 336.5L385.5 335.6L377.5 336.4L373.5 338.3L371.5 340.1L364.7 350.5L359.5 356L353.5 359.4L347.5 360.8L340.7 360.5L333.5 358.1L327.2 354.5L313.5 344.6L309.5 342.6L305.5 341.4L299.5 341.8L287.5 346.5L281.5 347.5L271.5 346.5L264.4 344.5L259.5 342.5L251.5 337.5L224.5 316.5L211.5 307.3L189.5 290.5L186 286.5L183.6 282.5L181.2 274.5L181.2 270.5L182.3 266.5L184.7 262.5L186.6 260.5L191.5 257.6L198.8 254.5L205.2 252.5L209.5 251.9L215.5 253.2L247.5 263.6L273.5 274.5L295.5 280.7L305.5 282.6L331.5 283.6L336.9 282.5L363.5 274.4L391.5 262.7L435.5 249.9L441.5 249.5L461.5 251.4L479.5 249.1L497.8 248.5L505.5 246.5L515.9 240.5Z"/>
<path fill="#e3e67f" d="M477.3 254.5L481.5 253.8L487.5 254.3L505.5 259L519.5 260.1L527.5 262.1L531.5 263.8L534.7 266.5L536 268.5L536.6 272.5L535.9 274.5L534.4 276.5L531.5 278.5L519.5 281.7L515.5 283.6L505.5 290L499.6 294.5L487.5 306.2L483.5 309L479.5 310.5L459.5 313.2L443.5 317.8L437.5 319.1L431.5 318.7L423.5 317L413.5 315.5L409.5 315.7L393.5 319.5L375.5 321.4L365.5 323.5L357.5 324.5L347.5 327.8L339.5 329.6L331.5 329.4L313.5 326L299.5 324.8L291.5 324.8L287.5 325.4L277.5 330.1L275.5 330.5L271.5 330.2L265.5 328.5L257.5 324.8L229.5 309.7L219.5 305.2L213.5 301.8L194.1 286.5L191.1 282.5L189.2 276.5L189.4 272.5L190.1 270.5L192.8 266.5L195.1 264.5L205.5 258.8L211.5 257.6L217.5 258.8L243.5 267.4L259.5 273.7L275.5 281.1L295.5 286.7L301.5 287.9L309.5 288.3L327.5 286.7L337.5 286.5L349.5 284.4L365.5 280.4L393.5 268.5L411.5 262.8L437.5 257.9L443.5 257.8L457.5 259L463.5 258.6Z"/>
<path fill="#e9e885" d="M481.6 260.5L484.1 260.5L487.5 261.6L499.6 268.5L504 272.5L505.5 276.5L504.4 280.5L501 284.5L485.5 296.4L479.5 300.1L471.5 302.5L453.5 305.1L435.5 310.2L421.5 310.3L407.5 308.5L393.5 309.4L383.5 311.7L367.5 317.1L361.5 318.1L351.5 318.1L337.5 315.1L331.5 314.4L325.5 315.1L307.5 319L297.5 319L263.5 309.5L245.5 305.9L223.5 298.7L215.5 294.6L209.5 290.2L203.4 284.5L200.8 280.5L199.9 276.5L201 272.5L204.5 268.5L209.5 265.5L213.5 264.7L215.5 264.9L245.5 273.9L260.8 280.5L271.5 286.9L275.5 288.5L299.5 293.5L315.5 294.1L321.5 293.1L329.5 290.2L337.5 291.5L343.5 291.3L369.5 286.1L375.5 284.1L406.7 270.5L413.5 268.5L439.5 265.8L461.5 268L469.5 265.9L477.5 261.9Z"/>
<path fill="#f0ea8c" d="M411.9 276.5L419.5 275L435.5 274.8L443.5 276.2L455.5 280L459.5 280.3L463.5 279.9L479.5 276.2L481.9 276.5L483.5 277.4L484.4 278.5L484.4 280.5L482 284.5L478.3 288.5L472.1 292.5L467.5 293.3L457.5 293.1L453.5 293.9L433.5 303.3L427.5 304.9L421.5 305.5L415.5 304.5L409.3 302.5L394.7 296.5L391.8 294.5L391.2 292.5L392.1 290.5L396 286.5L404.5 280.5ZM223.4 280.5L225.5 279.8L229.5 279.5L239.5 281L243.5 282.6L249.4 286.5L251.1 288.5L251.6 290.5L250.1 292.5L245.5 293.9L241.5 294L235.5 292.5L231.2 290.5L225.3 286.5L223.5 284.5L222.7 282.5ZM357.6 294.5L365.5 293.8L374.1 294.5L379.5 296.5L380.3 298.5L379.5 300.5L376.7 304.5L370 310.5L363.5 313.6L359.5 314.1L355.5 313.7L351.5 312.3L346.3 308.5L344.2 304.5L344.2 302.5L345.1 300.5L347.3 298.5L351.2 296.5ZM288.6 300.5L295.5 299.1L301.5 299.4L307.2 300.5L311.3 302.5L313 304.5L313.4 306.5L312.9 308.5L309.2 312.5L305.5 314.3L301.5 315.1L296.5 314.5L292.4 312.5L289.8 310.5L286.7 306.5L286.1 304.5L286.5 302.5Z"/>
<path fill="#f6ec92" d="M415.6 286.5L421.5 284.7L427.5 285.7L429.1 286.5L430.9 288.5L431.5 290.5L431.1 292.5L428.2 296.5L425.5 298.4L421.5 299.8L419.5 299.8L416.7 298.5L414.4 296.5L412.4 292.5L412.5 290.5L413.4 288.5ZM356.8 302.5L359.5 301.4L361.5 301.4L363.5 302.1L364.9 304.5L364.4 306.5L361.5 309.1L359.5 309.3L357.5 308.7L355.5 306.5L355.3 304.5ZM298.7 308.5L299.5 307.3L301.7 308.5L299.5 309.3Z"/>
</g>
<g clip-path="url(#ac)" fill="none" stroke="#111" stroke-width="1.15" stroke-linejoin="round">
<polyline points="98.2,120.5 106.4,164.4 109.3,180 112.6,195.6 116.2,204.7 131,196 143,209.6 146.3,222.5 162.8,217 164.4,220.3 183.4,228.6 210.7,237.1 243.6,252.2 262,262 271,267.5 301.2,279.6 330.8,282.4 364.2,271.4 386.2,261.8 437,246.1 461.9,248 483.8,241.7 494.8,232.1 498.3,209.1 505.8,194.6 517.6,164.4 525.8,150.7 536.5,145.7 540.6,120.5"/>
<polyline points="166.2,120.5 166.8,150.7 169.4,180 175.1,193.2 182.5,209.6 210.7,219.3 240.9,228.9 268.3,224.7 280.6,220.6 301.2,204.2 330.8,187.2 385.7,199.5 394.4,195.9 402.1,181.7 402.7,120.5"/>
<polyline points="215.4,120.5 213.4,164.4 215.6,181.2 213,196 216,208.8 246.4,209.2 271,194.6 275.2,147.9 273.8,120.5"/>
<polyline points="79.6,183.3 82.1,193.2 87.1,203 95.8,200.9 99.4,208 106.8,232.7 116.7,251.1 127.4,253.3 147.1,256 162.8,260.3 183.4,257.4 213.4,261.8 243.6,274.1 262,284.5 271,292 301.2,296.1 330.8,298.8 339.6,294.7 375.2,287.8 412.3,271.4 437,269.2 461.9,271.9 483.8,259 505.8,263.7 515.4,261.8 525.8,258 542.8,258.2 551,242.6 560.6,197.3 570.2,180.8 575.2,165.8 576.3,120.5"/>
<polyline points="79.6,231.9 86.2,245.8 94.5,248.3 104.3,252.4 108.9,260 116.2,270.8 131.1,271.3 146.5,267 160.3,279.7 177.5,287.2 185,293 198,296.2 216.2,301.6 243.6,311 260,314.3 271,317.8 301.2,321.4 331.3,322 358.8,321.1 386.2,317 412.3,312.9 437,316.5 460,311 483.8,312.7 496.2,304.3 505.8,296.1 525,292.8 542.8,297.4 559.3,292.5 575.7,296.1 590.8,298.3 606.4,285.9 622.4,289.2 629.2,287.3 638.3,281 654,282.9"/>
<polyline points="85.3,294 88.7,296 90.1,302.9 94.2,309.8 95.6,312.5 99,318 105.3,322.4 116.3,322.4 130.1,317.1 146.4,305.8 162.6,304.8 170.5,315.8 175,321.4 185,337 213.4,357.6 240.9,371.3 251.8,380.9 260,389.2 273.7,402.9 287.4,411.1 301.2,424 314.9,431.1 330.8,439.1 357.4,441.8 386.2,454.5 412.3,454.5 437,463.8 455,465.4 467.3,467.9 483.9,478.6 505.5,476.3 525.4,477.3 542.5,481.1 559,474.8 575.5,479.7 591,486.6 607,479.7 622.2,480.1 638.6,482.2 654,470.5"/>
<polyline points="130.9,386.6 134.3,392.8 146,403.8 160.4,399.3 163.4,396.2 167.2,398.3 183.7,402.4 189.2,411.3 194.5,420.2 213.4,431.7 224.4,450.9 243.6,461.9 254.1,470 267.8,478.2 284.3,487.8 299.3,498.8 322.7,507 350.1,515.3 370,519.4 385.1,523.5 411.2,540.5 437.2,545.4 452.3,551.5 460,553.1 471,555 484.7,559.2 505.3,558.6 525.5,564.1 542.5,571.5 559,572.7 575.2,576.4 591.1,575.6 606.8,578.4 623.2,575.6 638.9,574.8 654,571"/>
</g>
<g fill="none" stroke="#262626" stroke-width="1">
<rect x="79.35" y="59.75" width="574.1" height="609.1" stroke="#4d4d4d" stroke-width="1.1"/>
<path d="M79.5 59.8H85.5M653.5 59.8H647.5"/>
<path d="M79.5 156H85.5M653.5 156H647.5"/>
<path d="M79.5 195.9H85.5M653.5 195.9H647.5"/>
<path d="M79.5 252.3H85.5M653.5 252.3H647.5"/>
<path d="M79.5 364.2H85.5M653.5 364.2H647.5"/>
<path d="M79.5 490.4H85.5M653.5 490.4H647.5"/>
<path d="M79.5 587.2H85.5M653.5 587.2H647.5"/>
<path d="M79.5 668.7H85.5M653.5 668.7H647.5"/>
<path d="M171.8 668.9V662.9M171.8 59.8V65.8"/>
<path d="M331.1 668.9V662.9M331.1 59.8V65.8"/>
<path d="M490.5 668.9V662.9M490.5 59.8V65.8"/>
<path d="M649.9 668.9V662.9M649.9 59.8V65.8"/>
</g>
<path fill="none" stroke="#2a2a2a" stroke-width="1.1" d="M79.4 59.75H653.8"/>
<path fill="none" stroke="#262626" stroke-width="1.3" d="M74.2 59.8h10.5M79.4 54.5v10.5M81 59.8h10.5M86.2 54.5v10.5M90.3 59.8h10.5M95.6 54.5v10.5M100 59.8h10.5M105.2 54.5v10.5M110.7 59.8h10.5M115.9 54.5v10.5M125.7 59.8h10.5M130.9 54.5v10.5M141 59.8h10.5M146.2 54.5v10.5M157.8 59.8h10.5M163 54.5v10.5M179.2 59.8h10.5M184.5 54.5v10.5M207.2 59.8h10.5M212.5 54.5v10.5M236 59.8h10.5M241.2 54.5v10.5M265.2 59.8h10.5M270.5 54.5v10.5M295.5 59.8h10.5M300.8 54.5v10.5M325.2 59.8h10.5M330.5 54.5v10.5M353 59.8h10.5M358.2 54.5v10.5M380.2 59.8h10.5M385.5 54.5v10.5M406.5 59.8h10.5M411.8 54.5v10.5M431.5 59.8h10.5M436.8 54.5v10.5M456.5 59.8h10.5M461.8 54.5v10.5M479 59.8h10.5M484.2 54.5v10.5M499.8 59.8h10.5M505 54.5v10.5M519.8 59.8h10.5M525 54.5v10.5M537.2 59.8h10.5M542.5 54.5v10.5M553.5 59.8h10.5M558.8 54.5v10.5M569.8 59.8h10.5M575 54.5v10.5M585.5 59.8h10.5M590.8 54.5v10.5M601.8 59.8h10.5M607 54.5v10.5M617.2 59.8h10.5M622.5 54.5v10.5M633.5 59.8h10.5M638.8 54.5v10.5M648.5 59.8h10.5M653.8 54.5v10.5"/>
<g>
<linearGradient id="cbg" x1="0" y1="1" x2="0" y2="0"><stop offset="0.000%" stop-color="#29186b"/><stop offset="1.429%" stop-color="#29186b"/><stop offset="1.429%" stop-color="#291a73"/><stop offset="2.857%" stop-color="#291a73"/><stop offset="2.857%" stop-color="#291c7c"/><stop offset="4.286%" stop-color="#291c7c"/><stop offset="4.286%" stop-color="#291d84"/><stop offset="5.714%" stop-color="#291d84"/><stop offset="5.714%" stop-color="#2a1f8d"/><stop offset="7.143%" stop-color="#2a1f8d"/><stop offset="7.143%" stop-color="#2a2195"/><stop offset="8.571%" stop-color="#2a2195"/><stop offset="8.571%" stop-color="#2a239e"/><stop offset="10.000%" stop-color="#2a239e"/><stop offset="10.000%" stop-color="#27279f"/><stop offset="11.429%" stop-color="#27279f"/><stop offset="11.429%" stop-color="#232d9e"/><stop offset="12.857%" stop-color="#232d9e"/><stop offset="12.857%" stop-color="#1e339d"/><stop offset="14.286%" stop-color="#1e339d"/><stop offset="14.286%" stop-color="#1a389c"/><stop offset="15.714%" stop-color="#1a389c"/><stop offset="15.714%" stop-color="#163e9b"/><stop offset="17.143%" stop-color="#163e9b"/><stop offset="17.143%" stop-color="#11449a"/><stop offset="18.571%" stop-color="#11449a"/><stop offset="18.571%" stop-color="#0f4998"/><stop offset="20.000%" stop-color="#0f4998"/><stop offset="20.000%" stop-color="#104d96"/><stop offset="21.429%" stop-color="#104d96"/><stop offset="21.429%" stop-color="#105095"/><stop offset="22.857%" stop-color="#105095"/><stop offset="22.857%" stop-color="#115493"/><stop offset="24.286%" stop-color="#115493"/><stop offset="24.286%" stop-color="#115891"/><stop offset="25.714%" stop-color="#115891"/><stop offset="25.714%" stop-color="#125c8f"/><stop offset="27.143%" stop-color="#125c8f"/><stop offset="27.143%" stop-color="#13608e"/><stop offset="28.571%" stop-color="#13608e"/><stop offset="28.571%" stop-color="#16638d"/><stop offset="30.000%" stop-color="#16638d"/><stop offset="30.000%" stop-color="#19668c"/><stop offset="31.429%" stop-color="#19668c"/><stop offset="31.429%" stop-color="#1c6a8b"/><stop offset="32.857%" stop-color="#1c6a8b"/><stop offset="32.857%" stop-color="#1f6d8b"/><stop offset="34.286%" stop-color="#1f6d8b"/><stop offset="34.286%" stop-color="#23708a"/><stop offset="35.714%" stop-color="#23708a"/><stop offset="35.714%" stop-color="#267489"/><stop offset="37.143%" stop-color="#267489"/><stop offset="37.143%" stop-color="#287789"/><stop offset="38.571%" stop-color="#287789"/><stop offset="38.571%" stop-color="#2b7a89"/><stop offset="40.000%" stop-color="#2b7a89"/><stop offset="40.000%" stop-color="#2d7d89"/><stop offset="41.429%" stop-color="#2d7d89"/><stop offset="41.429%" stop-color="#2f8088"/><stop offset="42.857%" stop-color="#2f8088"/><stop offset="42.857%" stop-color="#328488"/><stop offset="44.286%" stop-color="#328488"/><stop offset="44.286%" stop-color="#348788"/><stop offset="45.714%" stop-color="#348788"/><stop offset="45.714%" stop-color="#368a88"/><stop offset="47.143%" stop-color="#368a88"/><stop offset="47.143%" stop-color="#388d87"/><stop offset="48.571%" stop-color="#388d87"/><stop offset="48.571%" stop-color="#3a9187"/><stop offset="50.000%" stop-color="#3a9187"/><stop offset="50.000%" stop-color="#3c9486"/><stop offset="51.429%" stop-color="#3c9486"/><stop offset="51.429%" stop-color="#3e9886"/><stop offset="52.857%" stop-color="#3e9886"/><stop offset="52.857%" stop-color="#409b85"/><stop offset="54.286%" stop-color="#409b85"/><stop offset="54.286%" stop-color="#429e84"/><stop offset="55.714%" stop-color="#429e84"/><stop offset="55.714%" stop-color="#44a283"/><stop offset="57.143%" stop-color="#44a283"/><stop offset="57.143%" stop-color="#47a582"/><stop offset="58.571%" stop-color="#47a582"/><stop offset="58.571%" stop-color="#4aa880"/><stop offset="60.000%" stop-color="#4aa880"/><stop offset="60.000%" stop-color="#4cac7f"/><stop offset="61.429%" stop-color="#4cac7f"/><stop offset="61.429%" stop-color="#4faf7d"/><stop offset="62.857%" stop-color="#4faf7d"/><stop offset="62.857%" stop-color="#51b27c"/><stop offset="64.286%" stop-color="#51b27c"/><stop offset="64.286%" stop-color="#56b579"/><stop offset="65.714%" stop-color="#56b579"/><stop offset="65.714%" stop-color="#5bb976"/><stop offset="67.143%" stop-color="#5bb976"/><stop offset="67.143%" stop-color="#60bc74"/><stop offset="68.571%" stop-color="#60bc74"/><stop offset="68.571%" stop-color="#65bf71"/><stop offset="70.000%" stop-color="#65bf71"/><stop offset="70.000%" stop-color="#69c26e"/><stop offset="71.429%" stop-color="#69c26e"/><stop offset="71.429%" stop-color="#6ec56b"/><stop offset="72.857%" stop-color="#6ec56b"/><stop offset="72.857%" stop-color="#75c869"/><stop offset="74.286%" stop-color="#75c869"/><stop offset="74.286%" stop-color="#7dcb66"/><stop offset="75.714%" stop-color="#7dcb66"/><stop offset="75.714%" stop-color="#85cd64"/><stop offset="77.143%" stop-color="#85cd64"/><stop offset="77.143%" stop-color="#8dd061"/><stop offset="78.571%" stop-color="#8dd061"/><stop offset="78.571%" stop-color="#95d25f"/><stop offset="80.000%" stop-color="#95d25f"/><stop offset="80.000%" stop-color="#9cd55c"/><stop offset="81.429%" stop-color="#9cd55c"/><stop offset="81.429%" stop-color="#a5d75d"/><stop offset="82.857%" stop-color="#a5d75d"/><stop offset="82.857%" stop-color="#add960"/><stop offset="84.286%" stop-color="#add960"/><stop offset="84.286%" stop-color="#b5da64"/><stop offset="85.714%" stop-color="#b5da64"/><stop offset="85.714%" stop-color="#bddc67"/><stop offset="87.143%" stop-color="#bddc67"/><stop offset="87.143%" stop-color="#c6de6a"/><stop offset="88.571%" stop-color="#c6de6a"/><stop offset="88.571%" stop-color="#cee06e"/><stop offset="90.000%" stop-color="#cee06e"/><stop offset="90.000%" stop-color="#d6e272"/><stop offset="91.429%" stop-color="#d6e272"/><stop offset="91.429%" stop-color="#dce478"/><stop offset="92.857%" stop-color="#dce478"/><stop offset="92.857%" stop-color="#e3e67f"/><stop offset="94.286%" stop-color="#e3e67f"/><stop offset="94.286%" stop-color="#e9e885"/><stop offset="95.714%" stop-color="#e9e885"/><stop offset="95.714%" stop-color="#f0ea8c"/><stop offset="97.143%" stop-color="#f0ea8c"/><stop offset="97.143%" stop-color="#f6ec92"/><stop offset="98.571%" stop-color="#f6ec92"/><stop offset="98.571%" stop-color="#fdee99"/><stop offset="100.000%" stop-color="#fdee99"/></linearGradient><rect x="702.5" y="59.8" width="18" height="609.1" fill="url(#cbg)"/>
</g>
<g fill="none" stroke="#262626" stroke-width="1">
<rect x="702.5" y="59.75" width="18.0" height="609.1" stroke="#4d4d4d" stroke-width="1.1"/>
<path d="M702.5 668.9h6M720.5 668.9h-6M702.5 581.8h6M720.5 581.8h-6M702.5 494.8h6M720.5 494.8h-6M702.5 407.8h6M720.5 407.8h-6M702.5 320.8h6M720.5 320.8h-6M702.5 233.8h6M720.5 233.8h-6M702.5 146.8h6M720.5 146.8h-6M702.5 59.8h6M720.5 59.8h-6"/>
</g>
<g class="t">
<text x="74" y="68.2" text-anchor="end">0</text>
<text x="74" y="164.4" text-anchor="end">25</text>
<text x="74" y="204.3" text-anchor="end">50</text>
<text x="74" y="260.7" text-anchor="end">100</text>
<text x="74" y="372.6" text-anchor="end">250</text>
<text x="74" y="498.8" text-anchor="end">500</text>
<text x="74" y="595.6" text-anchor="end">750</text>
<text x="74" y="677.1" text-anchor="end">1000</text>
<text x="171.8" y="695.8" text-anchor="middle">2450</text>
<text x="331.1" y="695.8" text-anchor="middle">2500</text>
<text x="490.5" y="695.8" text-anchor="middle">2550</text>
<text x="649.9" y="695.8" text-anchor="middle">2600</text>
<text x="725.6" y="677.5">33.5</text>
<text x="725.6" y="590.4">34</text>
<text x="725.6" y="503.4">34.5</text>
<text x="725.6" y="416.4">35</text>
<text x="725.6" y="329.4">35.5</text>
<text x="725.6" y="242.4">36</text>
<text x="725.6" y="155.4">36.5</text>
<text x="725.6" y="68.3">37</text>
</g>
<text class="h" x="366" y="19.2" text-anchor="middle">0209, Section 13, Dives 567-596</text>
<text class="h" x="364" y="48.8" text-anchor="middle">2025-12-19 09:43 to 2025-12-22 22:28</text>
<text class="l" x="366.3" y="724.3" text-anchor="middle">Distance (km)</text>
<text class="l" transform="translate(18.2,363.8) rotate(-90)" text-anchor="middle">Depth (m)</text>
<text class="l" transform="translate(794,364.4) rotate(-90)" text-anchor="middle">Salinity</text>
</svg>
</body></html>
